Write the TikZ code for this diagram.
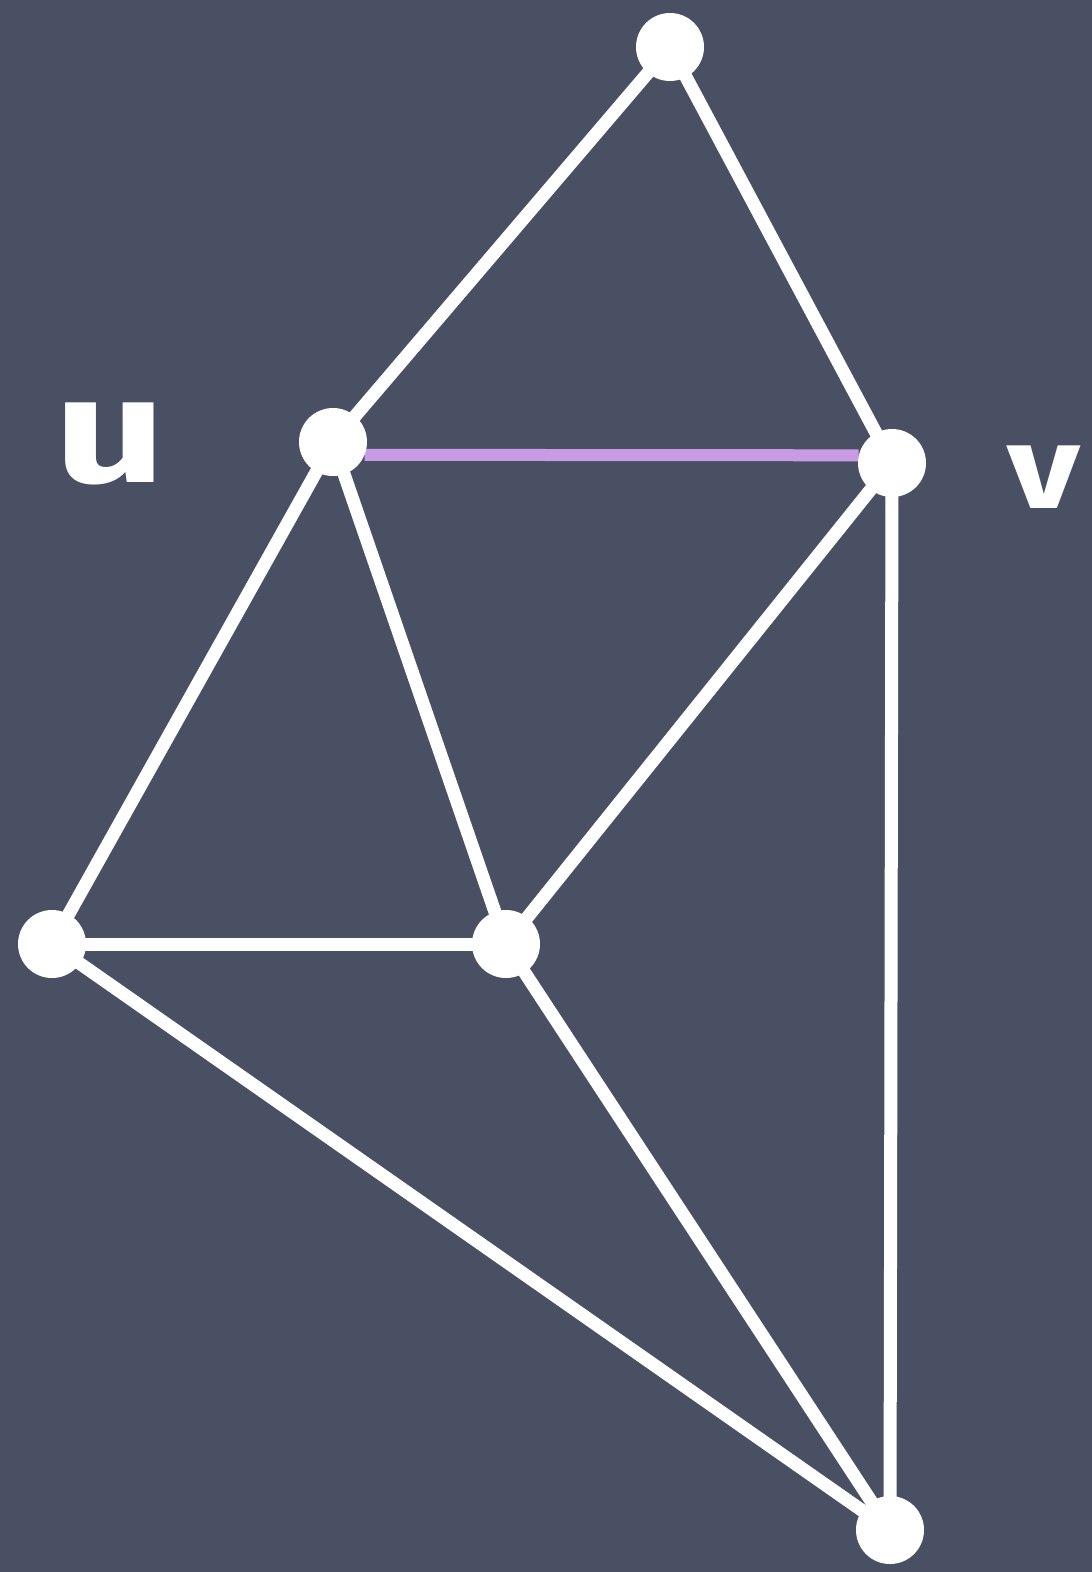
\documentclass[tikz,border=0pt]{standalone}
\usepackage{fontspec}
\newfontfamily\chalkfont{Fira Sans}
\definecolor{board}{HTML}{4A5063}
\definecolor{chalkpurple}{HTML}{C89BE4}
\pgfdeclarelayer{bg}
\pgfdeclarelayer{edges}
\pgfsetlayers{bg,edges,main}
\tikzset{
  vert/.style={circle, fill=white, minimum size=68pt, inner sep=0pt},
  edge/.style={draw=white, line width=13pt, line cap=round},
  hl/.style={draw=chalkpurple, line width=12pt},
  lbl/.style={text=white, font=\chalkfont\bfseries\fontsize{150}{150}\selectfont, inner sep=0pt, xscale=1.3},
  lblv/.style={text=white, font=\chalkfont\bfseries\fontsize{118}{118}\selectfont, inner sep=0pt, xscale=1.2}
}
\begin{document}
\begin{tikzpicture}[x=1pt,y=-1pt]
\begin{pgfonlayer}{bg}
  \fill[board] (0,0) rectangle (1092,1572);
\end{pgfonlayer}
\node[vert] (t) at (670,47) {};
\node[vert] (u) at (333,442) {};
\node[vert] (v) at (892,463) {};
\node[vert] (l) at (52,944) {};
\node[vert] (m) at (506,944) {};
\node[vert] (b) at (890,1530) {};
\node[lbl] (lu) at (110,444) {u};
\node[lblv] (lv) at (1044,477) {v};
\begin{pgfonlayer}{edges}
  \draw[edge] (t.center) -- (u.center);
  \draw[edge] (t.center) -- (v.center);
  \draw[edge] (u.center) -- (l.center);
  \draw[edge] (u.center) -- (m.center);
  \draw[edge] (v.center) -- (m.center);
  \draw[edge] (v.center) -- (b.center);
  \draw[edge] (l.center) -- (m.center);
  \draw[edge] (l.center) -- (b.center);
  \draw[edge] (m.center) -- (b.center);
  \draw[hl] (u.-22) -- (v.167);
\end{pgfonlayer}
\end{tikzpicture}
\end{document}
